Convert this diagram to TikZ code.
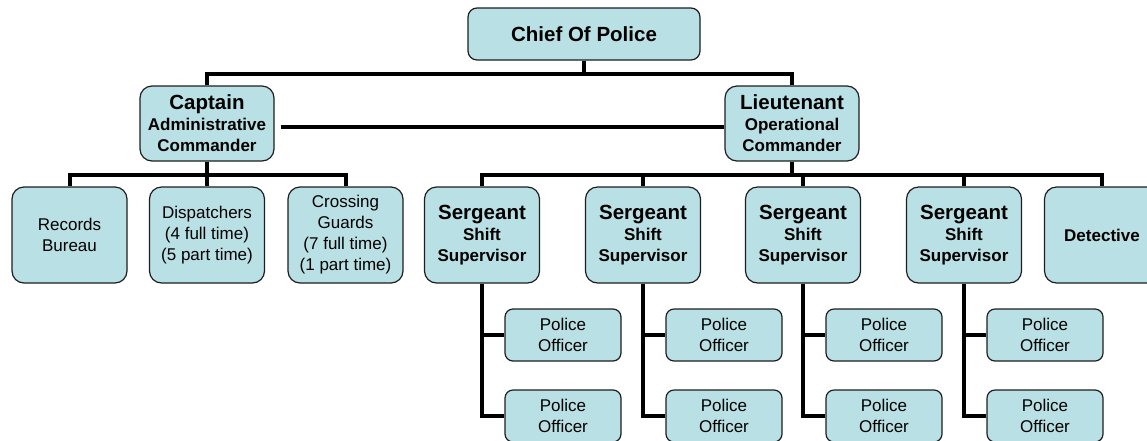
\documentclass[tikz,border=0pt]{standalone}
\usepackage{fontspec}
\setmainfont{Liberation Sans}
\usepackage{tikz}
\definecolor{boxfill}{RGB}{185,224,228}
\definecolor{boxline}{RGB}{30,30,30}
\newcommand{\ranktitle}[1]{{\fontsize{20.5}{21}\selectfont #1}}

\begin{document}
\begin{tikzpicture}[x=1pt,y=-1pt,
  every node/.style={inner sep=0pt,align=center},
  box/.style={draw=boxline,line width=1.2pt,fill=boxfill,rounded corners=12pt,
    minimum width=115pt,minimum height=96pt,font=\fontsize{17}{21}\selectfont},
  chiefbox/.style={box,minimum width=232pt,minimum height=52pt,rounded corners=9pt,
    font=\fontsize{20.5}{21}\selectfont\bfseries},
  cmdbox/.style={box,minimum width=134pt,minimum height=75pt,
    font=\fontsize{17}{21}\selectfont\bfseries},
  rankbox/.style={box,font=\fontsize{17}{21}\selectfont\bfseries},
  officerbox/.style={box,minimum width=116pt,minimum height=52pt,rounded corners=8pt},
  link/.style={line width=4pt,black}]
\useasboundingbox (0,0) rectangle (1147,440);
% top and commanders
\node[chiefbox] (chief) at (584,34) {Chief Of Police};
\node[cmdbox] (capt) at (207,123.5) {\ranktitle{Captain}\\Administrative\\Commander};
\node[cmdbox] (lieut) at (792,123.5) {\ranktitle{Lieutenant}\\Operational\\Commander};
% administrative side
\node[box] (rec) at (69.5,235) {Records\\Bureau};
\node[box] (disp) at (207,235) {Dispatchers\\(4 full time)\\(5 part time)};
\node[box] (cross) at (345.5,235) {Crossing\\Guards\\(7 full time)\\(1 part time)};
% operational side
\node[rankbox] (sgt1) at (482,235) {\ranktitle{Sergeant}\\Shift\\Supervisor};
\node[rankbox] (sgt2) at (643,235) {\ranktitle{Sergeant}\\Shift\\Supervisor};
\node[rankbox] (sgt3) at (803,235) {\ranktitle{Sergeant}\\Shift\\Supervisor};
\node[rankbox] (sgt4) at (964,235) {\ranktitle{Sergeant}\\Shift\\Supervisor};
\node[rankbox] (det) at (1102,235) {Detective};
% officers
\node[officerbox] (po1a) at (563,335) {Police\\Officer};
\node[officerbox] (po1b) at (563,416) {Police\\Officer};
\node[officerbox] (po2a) at (724,335) {Police\\Officer};
\node[officerbox] (po2b) at (724,416) {Police\\Officer};
\node[officerbox] (po3a) at (884,335) {Police\\Officer};
\node[officerbox] (po3b) at (884,416) {Police\\Officer};
\node[officerbox] (po4a) at (1045,335) {Police\\Officer};
\node[officerbox] (po4b) at (1045,416) {Police\\Officer};
% connectors
\draw[link] (chief.south) -- ++(0,13) coordinate (cbar);
\draw[link] (capt.north) |- (cbar) -| (lieut.north);
\draw[link,shorten <=6pt] ([yshift=-3.5pt]capt.east) -- ([yshift=-3.5pt]lieut.west);
\draw[link] (capt.south) -- ++(0,13) coordinate (abar);
\draw[link] (rec.north) |- (abar) -| (cross.north);
\draw[link] (capt.south) -- (disp.north);
\draw[link] (lieut.south) -- ++(0,13) coordinate (lbar);
\draw[link] (sgt1.north) |- (lbar) -| (det.north);
\draw[link] (sgt2.north) |- (lbar);
\draw[link] (sgt3.north) |- (lbar);
\draw[link] (sgt4.north) |- (lbar);
\draw[link] (sgt1.south) |- (po1a.west);
\draw[link] (sgt1.south) |- (po1b.west);
\draw[link] (sgt2.south) |- (po2a.west);
\draw[link] (sgt2.south) |- (po2b.west);
\draw[link] (sgt3.south) |- (po3a.west);
\draw[link] (sgt3.south) |- (po3b.west);
\draw[link] (sgt4.south) |- (po4a.west);
\draw[link] (sgt4.south) |- (po4b.west);
\end{tikzpicture}
\end{document}
